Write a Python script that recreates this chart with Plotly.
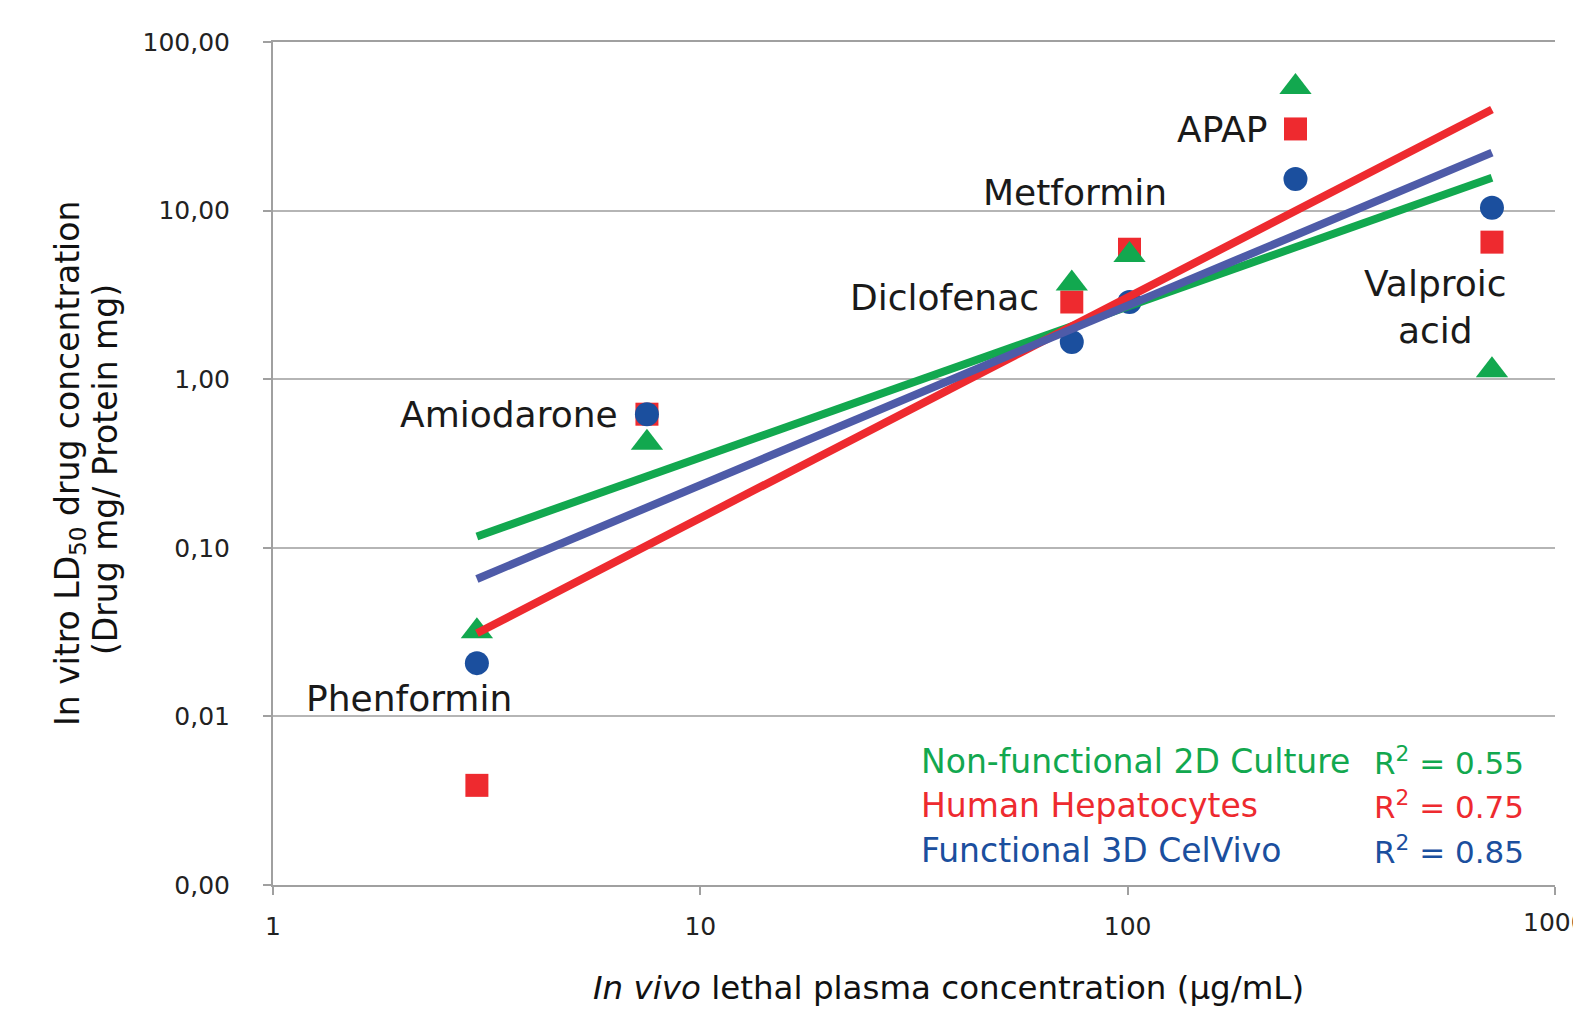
import numpy as np
import plotly.graph_objects as go

# In vivo lethal plasma concentration (µg/mL) per drug
drugs = ["Phenformin", "Amiodarone", "Diclofenac", "Metformin", "APAP", "Valproic acid"]
in_vivo = [3.0, 7.5, 74, 101, 247, 712]

# In vitro LD50 (drug mg / protein mg) per culture model
ld50_2d = [0.032, 0.42, 3.7, 5.45, 54, 1.13]
ld50_hep = [0.0039, 0.62, 2.87, 5.9, 30.5, 6.5]
ld50_3d = [0.0207, 0.62, 1.66, 2.87, 15.4, 10.4]

series_names = ["Non-functional 2D Culture", "Human Hepatocytes", "Functional 3D CelVivo"]
r2_labels = ["0.55", "0.75", "0.85"]

y_tickvals = [0.001, 0.01, 0.1, 1, 10, 100]
y_ticktext = ["0,00", "0,01", "0,10", "1,00", "10,00", "100,00"]
x_tickvals = [1, 10, 100, 1000]
x_ticktext = ["1", "10", "100", "1000"]

GREEN = "#12A84F"
RED = "#EE2A2F"
BLUE_PT = "#1B4F9E"
BLUE_LN = "#4E5BA8"
FONT = "DejaVu Sans"

fig = go.Figure()

# markers: hepatocytes first, 2D over them, 3D on top
fig.add_trace(go.Scatter(x=in_vivo, y=ld50_hep, mode="markers",
                         marker=dict(symbol="square", size=23, color=RED), showlegend=False))
fig.add_trace(go.Scatter(x=in_vivo, y=ld50_2d, mode="markers",
                         marker=dict(symbol="triangle-up", size=28, color=GREEN), showlegend=False))
fig.add_trace(go.Scatter(x=in_vivo, y=ld50_3d, mode="markers",
                         marker=dict(symbol="circle", size=24, color=BLUE_PT), showlegend=False))


def power_trend(xs, ys):
    lx, ly = np.log10(xs), np.log10(ys)
    b, a = np.polyfit(lx, ly, 1)
    gx = np.logspace(lx.min(), lx.max(), 50)
    return gx, 10 ** (a + b * np.log10(gx))


for ys, col in [(ld50_2d, GREEN), (ld50_hep, RED), (ld50_3d, BLUE_LN)]:
    tx, ty = power_trend(np.array(in_vivo), np.array(ys))
    fig.add_trace(go.Scatter(x=tx, y=ty, mode="lines",
                             line=dict(color=col, width=8), showlegend=False))

L, R, T, B = 273, 18, 42, 137
W, H = 1573, 1022
PW, PH = W - L - R, H - T - B


def px(x):
    return (x - L) / PW


def py(y):
    return (H - B - y) / PH


ann = []
label_pos = {
    "Phenformin": (409, 698, "center"),
    "Amiodarone": (620, 414, "right"),
    "Diclofenac": (1041, 297, "right"),
    "Metformin": (1075, 193, "center"),
    "APAP": (1269, 129, "right"),
    "Valproic acid": (1435, 307, "center"),
}
for name in drugs:
    x0, y0, anc = label_pos[name]
    txt = "Valproic<br>acid" if name == "Valproic acid" else name
    ann.append(dict(x=px(x0), y=py(y0), xref="paper", yref="paper", text=txt,
                    showarrow=False, xanchor=anc, yanchor="middle", align="center",
                    font=dict(family=FONT, size=36, color="#1a1a1a")))

for i, (nm, r2, col) in enumerate(zip(series_names, r2_labels, [GREEN, RED, BLUE_PT])):
    yy = [761, 805, 850][i]
    ann.append(dict(x=px(919), y=py(yy), xref="paper", yref="paper", text=nm,
                    showarrow=False, xanchor="left", yanchor="middle",
                    font=dict(family=FONT, size=33, color=col)))
    ann.append(dict(x=px(1372), y=py(yy), xref="paper", yref="paper",
                    text="R<sup>2</sup> = " + r2,
                    showarrow=False, xanchor="left", yanchor="middle",
                    font=dict(family=FONT, size=31, color=col)))

# the last x tick label runs past the page edge, so it is placed by hand
ann.append(dict(x=1.0, y=py(922), xref="paper", yref="paper", text=x_ticktext[-1],
                showarrow=False, xanchor="center", yanchor="middle",
                font=dict(family=FONT, size=25, color="#222")))

# y-axis title as two rotated lines
ann.append(dict(x=px(70), y=py(464), xref="paper", yref="paper", textangle=-90,
                text="In vitro LD<sub>50</sub> drug concentration",
                showarrow=False, xanchor="center", yanchor="middle",
                font=dict(family=FONT, size=33, color="#111")))
ann.append(dict(x=px(106), y=py(470), xref="paper", yref="paper", textangle=-90,
                text="(Drug mg/ Protein mg)",
                showarrow=False, xanchor="center", yanchor="middle",
                font=dict(family=FONT, size=33, color="#111")))
ann.append(dict(x=px(949), y=py(988), xref="paper", yref="paper",
                text="<i>In vivo</i> lethal plasma concentration (µg/mL)",
                showarrow=False, xanchor="center", yanchor="middle",
                font=dict(family=FONT, size=32.5, color="#111")))

fig.update_layout(
    width=W, height=H,
    margin=dict(l=L, r=R, t=T, b=B, autoexpand=False),
    paper_bgcolor="white", plot_bgcolor="white",
    annotations=ann,
    xaxis=dict(type="log", range=[0, 3], tickvals=x_tickvals,
               ticktext=x_ticktext[:-1] + [""],
               showgrid=False, showline=True, linecolor="#a0a0a0", linewidth=2,
               ticks="outside", ticklen=8, tickcolor="#a0a0a0", tickwidth=2,
               mirror=True, zeroline=False, ticklabelstandoff=10,
               tickfont=dict(family=FONT, size=25, color="#222")),
    yaxis=dict(type="log", range=[-3, 2], tickvals=y_tickvals, ticktext=y_ticktext,
               showgrid=True, gridcolor="#b5b5b5", gridwidth=2,
               showline=True, linecolor="#a0a0a0", linewidth=2,
               ticks="outside", ticklen=8, tickcolor="#a0a0a0", tickwidth=2,
               zeroline=False, ticklabelstandoff=28,
               tickfont=dict(family=FONT, size=25, color="#222")),
)

fig.write_html("out.html")
